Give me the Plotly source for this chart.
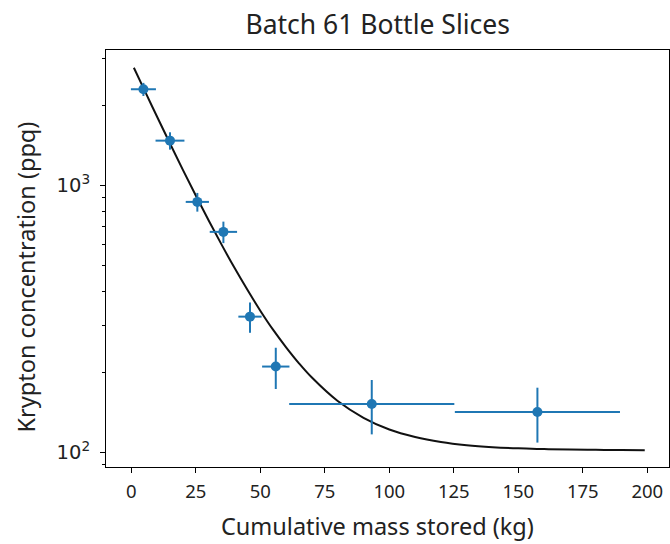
import plotly.graph_objects as go

mass_kg = [4.7, 15.0, 25.6, 35.7, 46.0, 56.0, 93.2, 157.4]
mass_err = [4.85, 5.6, 4.5, 5.3, 4.5, 5.3, 32.0, 32.0]
krypton_ppq = [2296, 1474, 869, 671, 323, 210, 152, 142]
krypton_err = [130, 110, 70, 62, 42, 37, 35, 33]

# Fitted curve
curve_x = [1, 5, 10, 15, 20, 25, 30, 35, 40, 45, 50, 55, 60, 65, 70, 80, 90,
           100, 110, 120, 130, 140, 150, 160, 170, 180, 190, 199]
curve_y = [2764, 2288, 1811, 1438, 1146, 918, 740, 601, 492, 407, 340, 288,
           248, 216, 191, 156, 135, 122, 114.4, 109.6, 106.6, 104.8, 103.7,
           103.1, 102.6, 102.4, 102.2, 102.1]

x_ticks = [0, 25, 50, 75, 100, 125, 150, 175, 200]
y_ticks = [100, 1000]
y_tick_text = ["10<sup>2</sup>", "10<sup>3</sup>"]
y_minor = [90, 200, 300, 400, 500, 600, 700, 800, 900, 2000, 3000]

title_text = "Batch 61 Bottle Slices"
x_title = "Cumulative mass stored (kg)"
y_title = "Krypton concentration (ppq)"

blue = "#1f77b4"
fig = go.Figure()
fig.add_trace(go.Scatter(x=curve_x, y=curve_y, mode="lines",
                         line=dict(color="#111111", width=2, shape="spline"),
                         showlegend=False, hoverinfo="skip"))
fig.add_trace(go.Scatter(
    x=mass_kg, y=krypton_ppq, mode="markers",
    marker=dict(color=blue, size=10),
    error_x=dict(type="data", array=mass_err, color=blue, thickness=2, width=0),
    error_y=dict(type="data", array=krypton_err, color=blue, thickness=2, width=0),
    showlegend=False))

font = "Noto Sans"
W, H = 670, 544
L, R, T, B = 106, 1, 50, 77
pw, ph = W - L - R, H - T - B


def px_to_paper_x(px):
    return (px - L) / pw


def px_to_paper_y(py):
    return (H - B - py) / ph


fig.update_layout(
    width=W, height=H,
    margin=dict(l=L, r=R, t=T, b=B),
    paper_bgcolor="white", plot_bgcolor="white",
    font=dict(family=font, color="#222222"),
    title=dict(text=title_text, x=377.7 / W, xanchor="center",
               y=1 - 25 / H, yanchor="middle", font=dict(size=26.5, family=font),
               automargin=False),
    annotations=[
        dict(text=x_title, xref="paper", yref="paper",
             x=px_to_paper_x(377), y=px_to_paper_y(526),
             xanchor="center", yanchor="middle", showarrow=False,
             font=dict(size=23.5, family=font, color="#222222")),
        dict(text=y_title, xref="paper", yref="paper",
             x=px_to_paper_x(25), y=px_to_paper_y(277.5), textangle=-90,
             xanchor="center", yanchor="middle", showarrow=False,
             font=dict(size=23.5, family=font, color="#222222")),
    ],
)
fig.update_xaxes(
    automargin=False,
    range=[-9.8, 208.4], tickvals=x_ticks, ticks="outside", ticklen=5,
    tickcolor="black", showline=True, linecolor="black", linewidth=1,
    mirror=True, showgrid=False, zeroline=False, ticklabelstandoff=3,
    tickfont=dict(size=18.5, family=font))
fig.update_yaxes(
    automargin=False,
    type="log", range=[1.946, 3.508], tickvals=y_ticks, ticktext=y_tick_text,
    ticks="outside", ticklen=5, tickcolor="black", showline=True,
    linecolor="black", linewidth=1, mirror=True, showgrid=False,
    zeroline=False, ticklabelstandoff=6,
    tickfont=dict(size=19.5, family="DejaVu Sans"),
    minor=dict(tickvals=y_minor, ticks="outside", ticklen=3, tickcolor="black",
               showgrid=False))

fig.write_html("out.html", config={"displayModeBar": False},
               post_script="document.body.style.margin='0';"
                           "document.body.style.overflow='hidden';")
